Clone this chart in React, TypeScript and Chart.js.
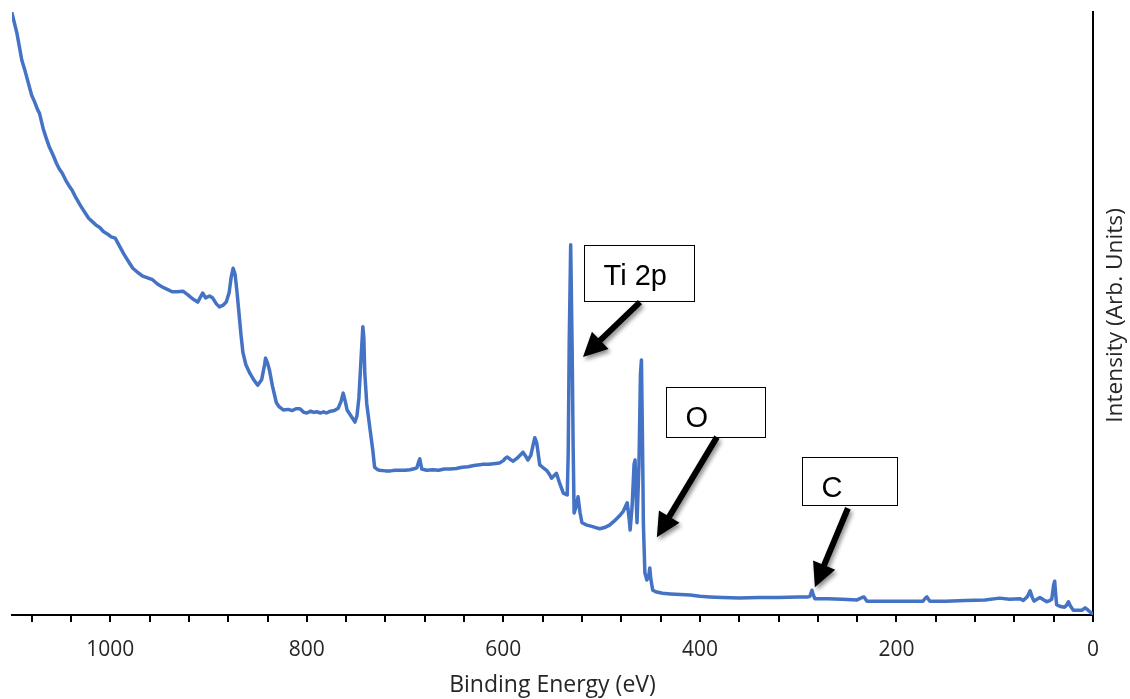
import React, { useEffect, useRef } from "react";
import { Chart, registerables } from "chart.js";

Chart.register(...registerables);

// XPS survey spectrum: binding energy (eV) and intensity (arb. units)
const bindingEnergy = [
  1100, 1095, 1090, 1087, 1083, 1080, 1077, 1074, 1072, 1068, 1065, 1062, 1058, 1055, 1052, 1049,
  1045, 1042, 1039, 1035, 1030, 1026, 1022, 1018, 1014, 1011, 1007, 1003, 999, 995, 991, 986,
  981, 977, 972, 967, 962, 957, 952, 947, 942, 937, 932, 926, 921, 916, 911, 906,
  903, 899, 896, 892, 889, 885, 882, 879, 877, 875, 873, 871, 869, 867, 865, 862,
  858, 854, 850, 846, 843, 842, 840, 838, 835, 831, 828, 824, 819, 815, 811, 807,
  803, 800, 796, 793, 790, 786, 783, 780, 776, 772, 768, 765, 763, 761, 759, 755,
  751, 749, 747, 745, 743, 742, 741, 739, 736, 733, 731, 728, 726, 720, 715, 710,
  705, 700, 695, 690, 688, 686, 685, 684, 683, 678, 672, 666, 660, 654, 648, 642,
  636, 630, 624, 621, 615, 610, 604, 600, 598, 596, 593, 590, 586, 583, 580, 578,
  575, 572, 570, 568, 566, 563, 560, 556, 553, 551, 549, 546, 543, 539, 535, 534,
  533, 531.5, 530, 529, 528, 526, 524, 522, 520, 515, 510, 506, 502, 497, 492, 487,
  481, 478, 476, 474, 472, 471, 469, 467, 466, 465, 464, 462, 460.5, 459.5, 458.5, 457.5,
  456, 454, 452, 451, 450, 448, 444, 438, 430, 420, 410, 400, 390, 377, 360, 340,
  320, 300, 290, 288, 286, 285, 283, 270, 255, 240, 235, 233, 230, 210, 190, 173,
  170, 169, 166, 150, 130, 110, 95, 85, 74, 71, 67, 64, 62, 60, 57, 54,
  50, 47, 44, 42, 40, 39, 38, 37, 33, 29, 27, 25, 23, 20, 15, 11,
  8, 5, 3, 0,
];

const intensity = [
  99.8, 96.5, 92.0, 90.4, 88.0, 86.2, 85.1, 83.8, 83.2, 80.5, 79.0, 77.6, 76.2, 75.0, 74.0, 73.3,
  72.0, 71.2, 70.5, 69.2, 67.8, 66.8, 65.8, 65.2, 64.6, 64.3, 63.6, 63.2, 62.7, 62.5, 61.3, 59.8,
  58.5, 57.5, 56.8, 56.2, 55.9, 55.6, 54.9, 54.4, 54.0, 53.6, 53.6, 53.7, 53.1, 52.4, 51.9, 53.4,
  52.6, 52.9, 52.6, 51.6, 51.1, 51.4, 51.9, 53.5, 56.0, 57.5, 56.5, 53.5, 50.0, 46.5, 43.5, 41.5,
  40.1, 39.0, 38.1, 39.0, 41.5, 42.6, 41.8, 40.6, 38.0, 35.2, 34.5, 34.0, 34.1, 33.9, 34.2, 34.2,
  33.6, 33.5, 33.8, 33.6, 33.7, 33.5, 33.7, 33.5, 33.8, 33.9, 34.3, 35.5, 36.8, 35.5, 34.0, 33.0,
  32.0, 33.0, 36.0, 42.0, 47.8, 46.0, 40.1, 35.0, 31.2, 27.5, 24.5, 24.1, 24.0, 23.9, 23.9, 24.0,
  24.0, 24.0, 24.1, 24.3, 24.4, 25.5, 25.9, 25.0, 24.2, 24.0, 24.1, 24.0, 24.2, 24.2, 24.3, 24.5,
  24.6, 24.8, 24.9, 25.0, 25.0, 25.1, 25.2, 25.6, 26.0, 26.2, 25.8, 25.5, 26.0, 26.5, 27.0, 26.5,
  25.7, 26.5, 28.0, 29.4, 28.5, 24.9, 24.5, 24.0, 23.3, 22.7, 23.0, 23.5, 22.0, 20.2, 19.9, 27.0,
  45.0, 61.4, 44.0, 28.0, 16.9, 18.0, 19.6, 17.0, 15.3, 14.9, 14.7, 14.5, 14.3, 14.5, 14.9, 15.6,
  16.6, 17.2, 17.9, 18.6, 16.0, 14.1, 18.0, 25.0, 25.7, 20.0, 15.3, 25.0, 40.0, 42.3, 30.0, 15.0,
  7.0, 5.8, 6.5, 7.8, 6.0, 4.1, 3.8, 3.6, 3.5, 3.4, 3.3, 3.1, 3.0, 2.9, 2.8, 2.9,
  2.9, 3.0, 3.0, 3.1, 4.1, 3.5, 2.7, 2.7, 2.6, 2.5, 2.9, 3.0, 2.3, 2.3, 2.3, 2.3,
  2.9, 3.0, 2.3, 2.3, 2.4, 2.5, 2.8, 2.6, 2.7, 2.4, 3.0, 4.0, 3.0, 2.3, 2.6, 2.9,
  2.5, 2.2, 2.4, 2.6, 5.0, 5.6, 3.5, 1.7, 1.4, 1.3, 1.6, 2.2, 1.5, 0.8, 0.8, 0.8,
  1.2, 0.8, 0.5, 0.2,
];

// Axis ranges and tick spacing
const energyMin = 0;
const energyMax = 1100;
const tickStep = 40;
const labelStep = 200;

// Peak callouts, placed in data space: box corners, arrow tail and arrow tip
const calloutLabels = ["Ti 2p", "O", "C"];
const calloutBoxes = [
  [518, 406, 61.3, 52.1],
  [434.6, 333.8, 37.8, 29.5],
  [296.2, 199.5, 26.2, 18.2],
];
const calloutArrows = [
  [461, 51.9, 519, 42.8],
  [382.7, 29.5, 443.8, 12.9],
  [249.4, 17.7, 283, 4.6],
];

const drawArrow = (ctx: CanvasRenderingContext2D, x1: number, y1: number, x2: number, y2: number) => {
  const ang = Math.atan2(y2 - y1, x2 - x1);
  const headLen = 24;
  const headHalf = 12;
  const bx = x2 - headLen * Math.cos(ang);
  const by = y2 - headLen * Math.sin(ang);
  ctx.save();
  ctx.shadowColor = "rgba(0,0,0,0.45)";
  ctx.shadowBlur = 4;
  ctx.shadowOffsetX = 2;
  ctx.shadowOffsetY = 3;
  ctx.fillStyle = "#000";
  ctx.strokeStyle = "#000";
  ctx.lineWidth = 6;
  ctx.lineCap = "butt";
  ctx.beginPath();
  ctx.moveTo(x1, y1);
  ctx.lineTo(bx + 2 * Math.cos(ang), by + 2 * Math.sin(ang));
  ctx.stroke();
  ctx.beginPath();
  ctx.moveTo(x2, y2);
  ctx.lineTo(bx + headHalf * Math.sin(ang), by - headHalf * Math.cos(ang));
  ctx.lineTo(bx - headHalf * Math.sin(ang), by + headHalf * Math.cos(ang));
  ctx.closePath();
  ctx.fill();
  ctx.restore();
};

const calloutPlugin = {
  id: "callouts",
  afterDraw(chart: any) {
    const { ctx, scales } = chart;
    const xs = scales.x;
    const ys = scales.y;
    calloutLabels.forEach((label, i) => {
      const [e1, e2, v1, v2] = calloutBoxes[i];
      const left = Math.round(xs.getPixelForValue(e1)) + 0.5;
      const right = Math.round(xs.getPixelForValue(e2)) + 0.5;
      const top = Math.round(ys.getPixelForValue(v1)) + 0.5;
      const bottom = Math.round(ys.getPixelForValue(v2)) + 0.5;
      ctx.save();
      ctx.fillStyle = "#fff";
      ctx.fillRect(left, top, right - left, bottom - top);
      ctx.strokeStyle = "#000";
      ctx.lineWidth = 1;
      ctx.strokeRect(left, top, right - left, bottom - top);
      ctx.fillStyle = "#000";
      ctx.font = '29px "Liberation Sans", Arial, sans-serif';
      ctx.textBaseline = "alphabetic";
      ctx.textAlign = "left";
      ctx.fillText(label, left + 19, top + 39);
      ctx.restore();

      const [tx, ty, hx, hy] = calloutArrows[i];
      drawArrow(
        ctx,
        xs.getPixelForValue(tx),
        ys.getPixelForValue(ty),
        xs.getPixelForValue(hx),
        ys.getPixelForValue(hy)
      );
    });

    // vertical axis title, reading bottom to top beside the right-hand axis
    const area = chart.chartArea;
    ctx.save();
    ctx.translate(area.right + 23, (area.top + area.bottom) / 2 + 2);
    ctx.rotate(-Math.PI / 2);
    ctx.fillStyle = "#262626";
    ctx.font = '22.7px "Open Sans", sans-serif';
    ctx.textAlign = "center";
    ctx.textBaseline = "middle";
    ctx.fillText("Intensity (Arb. Units)", 0, 0);
    ctx.restore();
  },
};

export default function App() {
  const canvasRef = useRef<HTMLCanvasElement>(null);

  useEffect(() => {
    const canvas = canvasRef.current;
    if (!canvas) return;
    const points = bindingEnergy.map((e, i) => ({ x: e, y: intensity[i] }));
    const chart = new Chart(canvas, {
      type: "line",
      data: {
        datasets: [
          {
            data: points,
            borderColor: "#4472C4",
            borderWidth: 3.5,
            pointRadius: 0,
            tension: 0,
            fill: false,
            borderJoinStyle: "round",
            borderCapStyle: "round",
          },
        ],
      },
      options: {
        animation: false,
        responsive: false,
        maintainAspectRatio: false,
        layout: { padding: { left: 12, top: 12, right: 0, bottom: 0 } },
        plugins: { legend: { display: false }, tooltip: { enabled: false } },
        scales: {
          x: {
            type: "linear",
            reverse: true,
            min: energyMin,
            max: energyMax,
            afterBuildTicks: (s: any) => {
              const ticks = [];
              for (let v = energyMin; v <= energyMax; v += tickStep) ticks.push({ value: v });
              s.ticks = ticks;
            },
            afterFit: (s: any) => {
              s.height = 84;
            },
            ticks: {
              autoSkip: false,
              maxRotation: 0,
              minRotation: 0,
              padding: 15,
              color: "#262626",
              font: { family: "Open Sans", size: 21 },
              callback: (v: any) => (Number(v) % labelStep === 0 ? String(v) : ""),
            },
            grid: { drawOnChartArea: false, drawTicks: true, tickLength: 7, color: "#000", lineWidth: 2 },
            border: { display: true, color: "#000", width: 2 },
            title: {
              display: true,
              text: "Binding Energy (eV)",
              color: "#262626",
              font: { family: "Open Sans", size: 23 },
              padding: 0,
            },
          },
          y: {
            position: "right",
            min: 0,
            max: 100,
            ticks: { display: false },
            grid: { display: false },
            border: { display: true, color: "#000", width: 2 },
            afterFit: (s: any) => {
              s.width = 37;
            },
          },
        },
      },
      plugins: [calloutPlugin],
    } as any);
    return () => chart.destroy();
  }, []);

  return (
    <div style={{ position: "absolute", left: 0, top: 0, width: 1130, height: 699, background: "#fff" }}>
      <canvas ref={canvasRef} width={1130} height={699} style={{ display: "block" }} />
    </div>
  );
}
